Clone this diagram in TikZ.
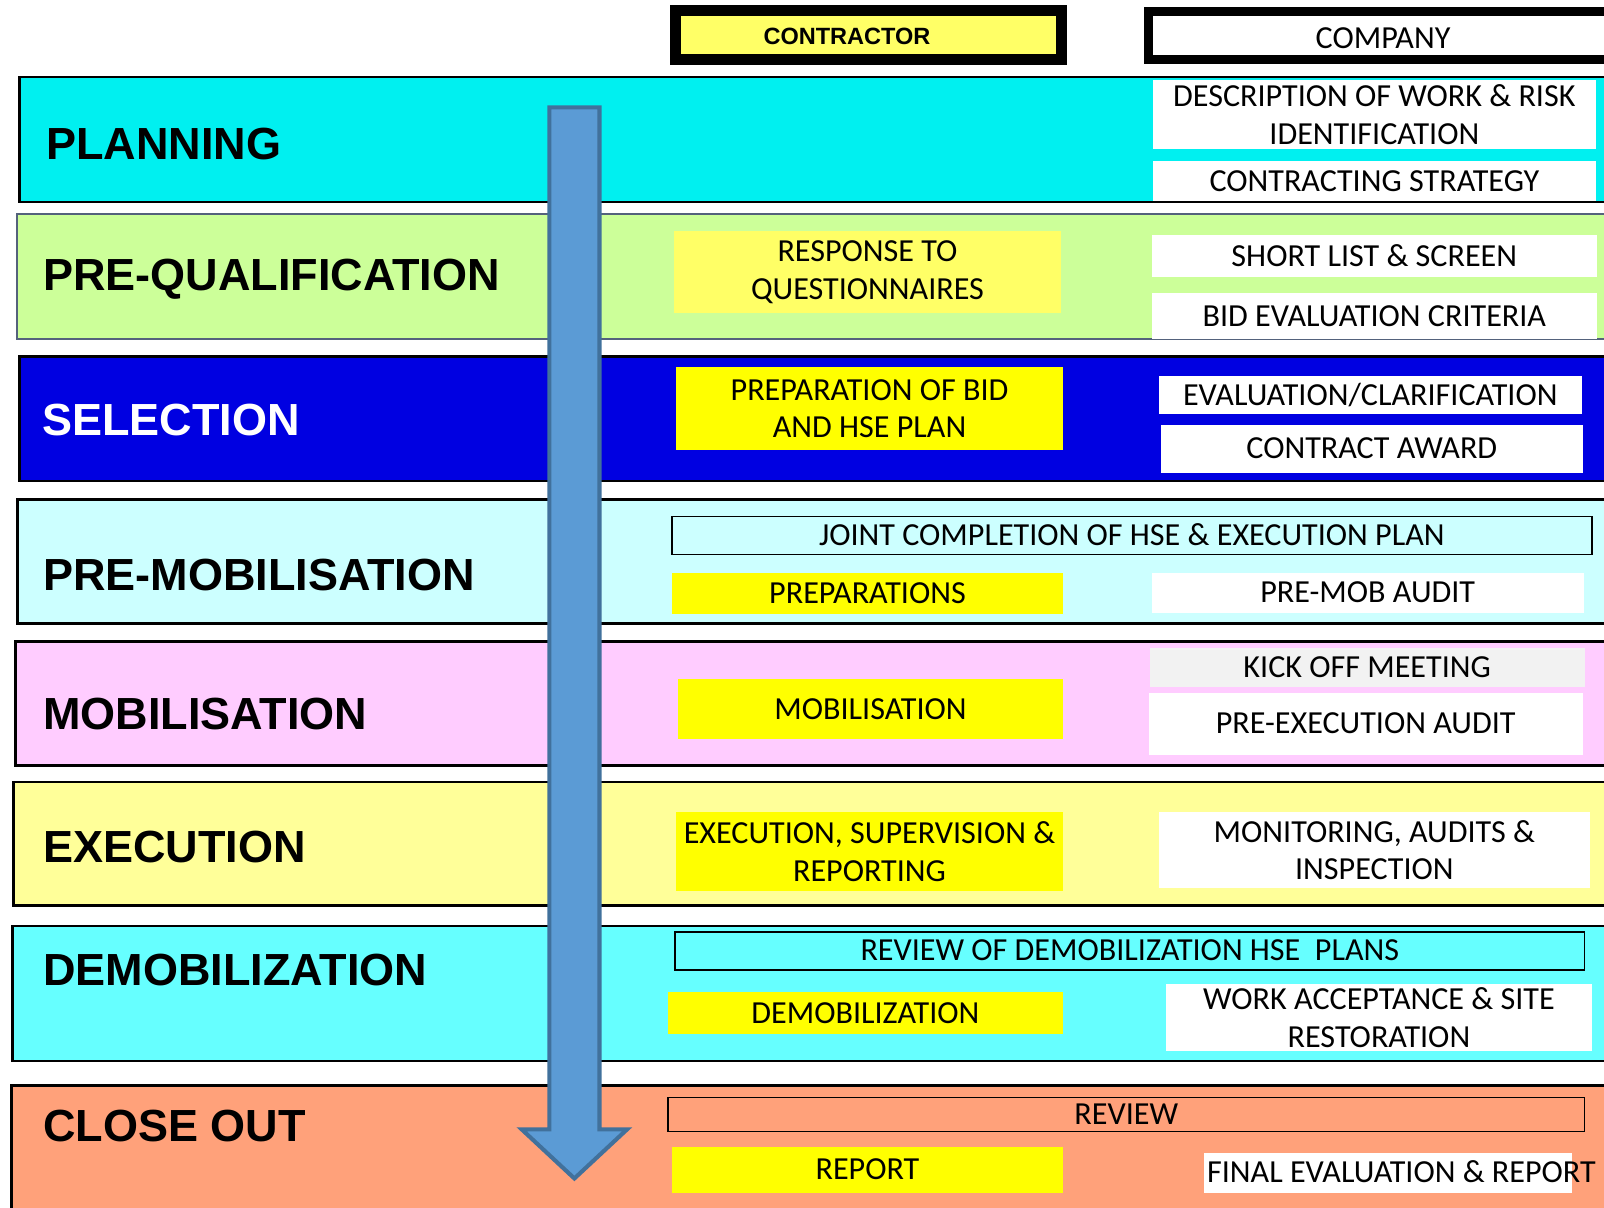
\documentclass[tikz,border=0pt]{standalone}
\usepackage{fontspec}
\setmainfont{Carlito}
\newfontfamily\arialfont{Liberation Sans}
\usepackage{tikz}
\usetikzlibrary{positioning}

\definecolor{planc}{RGB}{0,240,240}
\definecolor{prequalc}{RGB}{204,255,153}
\definecolor{prequalline}{RGB}{84,98,124}
\definecolor{selc}{RGB}{0,0,225}
\definecolor{premobc}{RGB}{204,255,255}
\definecolor{mobc}{RGB}{255,204,255}
\definecolor{execc}{RGB}{255,255,153}
\definecolor{demobc}{RGB}{102,255,255}
\definecolor{closec}{RGB}{255,161,122}
\definecolor{yellowlt}{RGB}{255,255,102}
\definecolor{yellowfull}{RGB}{255,255,0}
\definecolor{kickc}{RGB}{242,242,242}
\definecolor{arrowfill}{RGB}{91,155,213}
\definecolor{arrowline}{RGB}{65,113,156}

\begin{document}
\begin{tikzpicture}[x=1pt, y=-1pt,
	band/.style = {rectangle, draw=black, line width=2.5pt, anchor=north west, inner sep=0pt, minimum width=1600pt},
	phase/.style = {anchor=base west, inner sep=0pt, font=\arialfont\bfseries\fontsize{44}{52}\selectfont},
	txt/.style = {inner sep=0pt, font=\fontsize{31.4}{37}\selectfont, text height=19.8pt, text depth=0pt},
	onebox/.style = {txt, rectangle},
	twobox/.style = {rectangle, inner sep=0pt, align=center, font=\fontsize{31.4}{37}\selectfont},
	outlined/.style = {draw=black, line width=1.5pt},
	flowarrow/.style = {draw=arrowline, fill=arrowfill, line width=4pt, line join=miter}]
			% Page size
			\useasboundingbox (0,0) rectangle (1568,1180);
			% Phase bands
			\node (planning) [band, fill=planc, minimum height=122pt] at (18,74) {};
			\node (prequal) [band, fill=prequalc, draw=prequalline, line width=2pt, minimum height=122pt] at (16,208) {};
			\node (selection) [band, fill=selc, minimum height=122pt] at (18,347) {};
			\node (premob) [band, fill=premobc, minimum height=121pt] at (16,487) {};
			\node (mob) [band, fill=mobc, minimum height=121pt] at (14,626) {};
			\node (exec) [band, fill=execc, minimum height=121pt] at (12,763) {};
			\node (demob) [band, fill=demobc, minimum height=132pt] at (11,904) {};
			\node (closeout) [band, fill=closec, minimum height=160pt] at (10,1060) {};
			% Phase names
			\node (lplanning) [phase] at (45,156) {PLANNING};
			\node (lprequal) [phase] at (42,284) {PRE-QUALIFICATION};
			\node (lselection) [phase, white] at (41,426) {SELECTION};
			\node (lpremob) [phase] at (42,577) {PRE-MOBILISATION};
			\node (lmob) [phase] at (42,713) {MOBILISATION};
			\node (lexec) [phase] at (42,843) {EXECUTION};
			\node (ldemob) [phase] at (42,963) {DEMOBILIZATION};
			\node (lcloseout) [phase] at (42,1116) {CLOSE OUT};
			% Downward arrow
			\draw [flowarrow] (537,105) -- (586,105) -- (586,1104) -- (613,1104) -- (561.5,1152)
			-- (510,1104) -- (537,1104) -- cycle;
			% Column heads
			\node (contractor) [draw=black, line width=11pt, fill=yellowlt, minimum width=377pt, minimum height=48pt, inner sep=0pt] at (849,34.5) {};
			\node (contractorlbl) [inner sep=0pt, font=\arialfont\bfseries\fontsize{23}{28}\selectfont] at (828,36) {CONTRACTOR};
			\node (company) [draw=black, line width=9pt, fill=white, minimum width=459pt, minimum height=47pt, inner sep=0pt] at (1352,35) {};
			\node (companylbl) [txt] at (1352,37.5) {COMPANY};
			% Planning
			\node (desc) [twobox, fill=white, minimum width=433pt, minimum height=68pt] at (1343.5,112) {DESCRIPTION OF WORK \& RISK\\IDENTIFICATION};
			\node (strat) [onebox, fill=white, minimum width=433pt, minimum height=39pt, below=11pt of desc] {CONTRACTING STRATEGY};
			% Pre-qualification
			\node (resp) [twobox, fill=yellowlt, minimum width=378pt, minimum height=80pt] at (848,266) {RESPONSE TO\\QUESTIONNAIRES};
			\node (shortlist) [onebox, fill=white, minimum width=435pt, minimum height=41pt] at (1343.5,250.5) {SHORT LIST \& SCREEN};
			\node (bidcrit) [onebox, fill=white, minimum width=435pt, minimum height=45pt, below=15pt of shortlist] {BID EVALUATION CRITERIA};
			% Selection
			\node (prepbid) [twobox, fill=yellowfull, minimum width=378pt, minimum height=81pt] at (850,399.5) {PREPARATION OF BID\\AND HSE PLAN};
			\node (evalclar) [onebox, fill=white, minimum width=413pt, minimum height=37pt] at (1339.5,386.5) {EVALUATION/CLARIFICATION};
			\node (award) [onebox, fill=white, minimum width=412pt, minimum height=47pt] at (1341,438.5) {CONTRACT AWARD};
			% Pre-mobilisation
			\node (joint) [onebox, outlined, minimum width=899pt, minimum height=37pt] at (1106.5,523.5) {JOINT COMPLETION OF HSE \& EXECUTION PLAN};
			\node (preps) [onebox, fill=yellowfull, minimum width=382pt, minimum height=40pt] at (848,580) {PREPARATIONS};
			\node (premobaudit) [onebox, fill=white, minimum width=422pt, minimum height=39pt] at (1337,579.5) {PRE-MOB AUDIT};
			% Mobilisation
			\node (mobwork) [onebox, fill=yellowfull, minimum width=376pt, minimum height=58pt] at (851,693) {MOBILISATION};
			\node (kickoff) [onebox, fill=kickc, minimum width=425pt, minimum height=39pt] at (1336.5,652.5) {KICK OFF MEETING};
			\node (preexec) [onebox, fill=white, minimum width=424pt, minimum height=61pt] at (1335,707.5) {PRE-EXECUTION AUDIT};
			% Execution
			\node (execsup) [twobox, fill=yellowfull, minimum width=378pt, minimum height=77pt] at (850,832.5) {EXECUTION, SUPERVISION \&\\REPORTING};
			\node (monitor) [twobox, fill=white, minimum width=421pt, minimum height=74pt] at (1343.5,831) {MONITORING, AUDITS \&\\INSPECTION};
			% Demobilization
			\node (revdemob) [onebox, outlined, minimum width=889pt, minimum height=37pt] at (1104.5,929.5) {REVIEW OF DEMOBILIZATION HSE\ \ PLANS};
			\node (demobwork) [onebox, fill=yellowfull, minimum width=386pt, minimum height=41pt] at (846,990.5) {DEMOBILIZATION};
			\node (accept) [twobox, fill=white, minimum width=416pt, minimum height=65pt] at (1348,994.5) {WORK ACCEPTANCE \& SITE\\RESTORATION};
			% Close out
			\node (review) [onebox, outlined, minimum width=896pt, minimum height=33pt] at (1101,1089.5) {REVIEW};
			\node (report) [onebox, fill=yellowfull, minimum width=382pt, minimum height=45pt] at (848,1143.5) {REPORT};
			\node (finalbox) [fill=white, inner sep=0pt, minimum width=360pt, minimum height=39pt] at (1357,1146.5) {};
			\node (finallbl) [txt, anchor=west] at ([xshift=3pt]finalbox.west) {FINAL EVALUATION \& REPORT};
		\end{tikzpicture}
\end{document}
